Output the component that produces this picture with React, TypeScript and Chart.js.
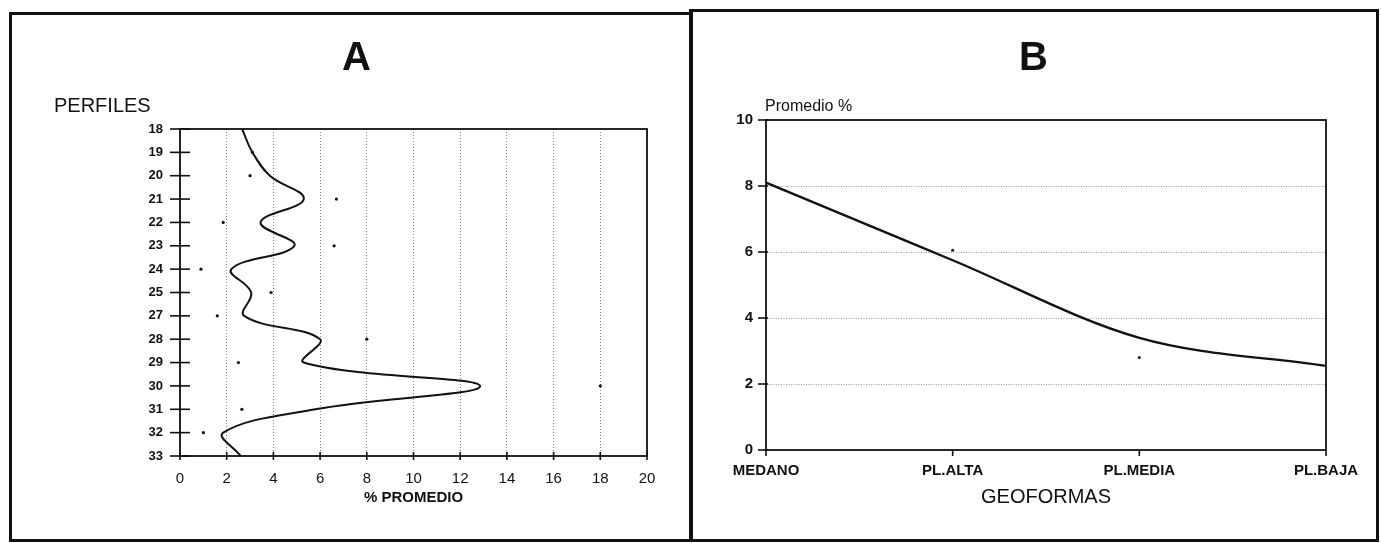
import React, { useEffect, useRef } from 'react';
import { Chart, registerables } from 'chart.js';

Chart.register(...registerables);

const FONT = '"Liberation Sans", Arial, Helvetica, sans-serif';
const INK = '#111';

// ---- Panel A data ----
const perfiles = ['18', '19', '20', '21', '22', '23', '24', '25', '27', '28', '29', '30', '31', '32', '33'];
const curvaA = [2.66, 3.1, 3.85, 5.3, 3.45, 4.9, 2.2, 3.05, 2.75, 6.0, 5.3, 12.85, 5.8, 1.85, 2.6];
const puntosA = [null, 3.1, 3.0, 6.7, 1.85, 6.6, 0.9, 3.9, 1.6, 8.0, 2.5, 18.0, 2.65, 1.0, null];
const xMinA = 0;
const xMaxA = 20;
const xStepA = 2;

// ---- Panel B data ----
const geoformas = ['MEDANO', 'PL.ALTA', 'PL.MEDIA', 'PL.BAJA'];
const curvaB = [8.1, 5.75, 3.4, 2.55];
const puntosB = [null, 6.05, 2.8, null];
const yMinB = 0;
const yMaxB = 10;
const yStepB = 2;

const framePlugin = {
  id: 'frame',
  afterDraw(chart: any, _args: any, opts: any) {
    const { ctx, chartArea: a } = chart;
    ctx.save();
    ctx.strokeStyle = INK;
    ctx.lineWidth = opts.lineWidth;
    ctx.strokeRect(a.left, a.top, a.right - a.left, a.bottom - a.top);
    ctx.lineWidth = opts.tickWidth;
    const ys = chart.scales.y;
    ys.ticks.forEach((_t: any, i: number) => {
      const p = ys.getPixelForTick(i);
      ctx.beginPath();
      ctx.moveTo(a.left - opts.yOut, p);
      ctx.lineTo(a.left + opts.yIn, p);
      ctx.stroke();
    });
    const xs = chart.scales.x;
    xs.ticks.forEach((_t: any, i: number) => {
      const p = xs.getPixelForTick(i);
      ctx.beginPath();
      ctx.moveTo(p, a.bottom + opts.xOut);
      ctx.lineTo(p, a.bottom - opts.xIn);
      ctx.stroke();
    });
    ctx.restore();
  },
};

export default function App() {
  const refA = useRef<HTMLCanvasElement>(null);
  const refB = useRef<HTMLCanvasElement>(null);

  useEffect(() => {
    Chart.defaults.font.family = FONT;
    Chart.defaults.color = INK;

    const chartA = new Chart(refA.current as HTMLCanvasElement, {
      type: 'line',
      data: {
        labels: perfiles,
        datasets: [
          {
            data: curvaA,
            borderColor: INK,
            borderWidth: 2,
            pointRadius: 0,
            tension: 0.4,
            fill: false,
          },
          {
            data: puntosA as any,
            showLine: false,
            pointRadius: 1.6,
            pointBackgroundColor: INK,
            pointBorderWidth: 0,
            borderColor: INK,
          },
        ],
      },
      options: {
        indexAxis: 'y',
        responsive: false,
        animation: false,
        layout: { padding: { left: 0, top: 116, right: 43, bottom: 0 } },
        plugins: {
          legend: { display: false },
          tooltip: { enabled: false },
          frame: { lineWidth: 1.8, tickWidth: 1.6, yOut: 10, yIn: 10, xOut: 4, xIn: 4 },
        } as any,
        scales: {
          y: {
            type: 'category',
            offset: false,
            grid: { display: false, drawTicks: false },
            border: { display: false },
            ticks: { autoSkip: false, padding: 17, font: { size: 13, weight: 'bold' }, color: INK },
            afterFit: (s: any) => {
              s.width = 169;
            },
          },
          x: {
            type: 'linear',
            min: xMinA,
            max: xMaxA,
            grid: { color: '#888', lineWidth: 1, drawTicks: false },
            border: { display: false, dash: [1, 2] },
            ticks: { stepSize: xStepA, autoSkip: false, maxRotation: 0, padding: 14, font: { size: 15 }, color: INK },
            title: {
              display: true,
              text: '% PROMEDIO',
              font: { size: 15, weight: 'bold' },
              color: INK,
              padding: { top: 0, bottom: 34 },
            },
            afterFit: (s: any) => {
              s.height = 85;
            },
          },
        },
      } as any,
      plugins: [framePlugin],
    });

    const chartB = new Chart(refB.current as HTMLCanvasElement, {
      type: 'line',
      data: {
        labels: geoformas,
        datasets: [
          {
            data: curvaB,
            borderColor: INK,
            borderWidth: 2.4,
            pointRadius: 0,
            cubicInterpolationMode: 'monotone',
            fill: false,
          },
          {
            data: puntosB as any,
            showLine: false,
            pointRadius: 1.5,
            pointBackgroundColor: INK,
            pointBorderWidth: 0,
            borderColor: INK,
          },
        ],
      },
      options: {
        responsive: false,
        animation: false,
        layout: { padding: { left: 0, top: 110, right: 52, bottom: 0 } },
        plugins: {
          legend: { display: false },
          tooltip: { enabled: false },
          frame: { lineWidth: 1.8, tickWidth: 1.6, yOut: 8, yIn: 2, xOut: 6, xIn: 0 },
        } as any,
        scales: {
          x: {
            type: 'category',
            offset: false,
            grid: { display: false, drawTicks: false },
            border: { display: false },
            ticks: { autoSkip: false, maxRotation: 0, padding: 12, font: { size: 15, weight: 'bold' }, color: INK },
            title: {
              display: true,
              text: 'GEOFORMAS',
              font: { size: 20 },
              color: INK,
              padding: { top: 0, bottom: 32 },
            },
            afterFit: (s: any) => {
              s.height = 91;
            },
          },
          y: {
            type: 'linear',
            min: yMinB,
            max: yMaxB,
            grid: { color: '#999', lineWidth: 1, drawTicks: false },
            border: { display: false, dash: [1, 1.5] },
            ticks: { stepSize: yStepB, padding: 13, font: { size: 15, weight: 'bold' }, color: INK },
            afterFit: (s: any) => {
              s.width = 76;
            },
          },
        },
      } as any,
      plugins: [framePlugin],
    });

    return () => {
      chartA.destroy();
      chartB.destroy();
    };
  }, []);

  const textBase: React.CSSProperties = {
    position: 'absolute',
    lineHeight: 1,
    whiteSpace: 'nowrap',
    color: INK,
    fontFamily: FONT,
  };

  return (
    <div
      style={{
        position: 'absolute',
        left: 0,
        top: 0,
        width: 1381,
        height: 543,
        background: '#fff',
        overflow: 'hidden',
        fontFamily: FONT,
      }}
    >
      <div
        style={{
          position: 'absolute',
          left: 9,
          top: 12,
          width: 684,
          height: 530,
          border: '3px solid #111',
          boxSizing: 'border-box',
        }}
      />
      <div
        style={{
          position: 'absolute',
          left: 689,
          top: 9,
          width: 690,
          height: 533,
          border: '3px solid #111',
          boxSizing: 'border-box',
        }}
      />
      <canvas ref={refA} width={679} height={528} style={{ position: 'absolute', left: 11, top: 13 }} />
      <canvas ref={refB} width={688} height={531} style={{ position: 'absolute', left: 690, top: 10 }} />

      <div style={{ ...textBase, left: 356.5, top: 56, fontSize: 40, fontWeight: 'bold', transform: 'translate(-50%, -50%)' }}>A</div>
      <div style={{ ...textBase, left: 1033.5, top: 56, fontSize: 40, fontWeight: 'bold', transform: 'translate(-50%, -50%)' }}>B</div>
      <div style={{ ...textBase, left: 54, top: 105, fontSize: 20, transform: 'translateY(-50%)' }}>PERFILES</div>
      <div style={{ ...textBase, left: 765, top: 106, fontSize: 16, transform: 'translateY(-50%)' }}>Promedio %</div>
    </div>
  );
}
